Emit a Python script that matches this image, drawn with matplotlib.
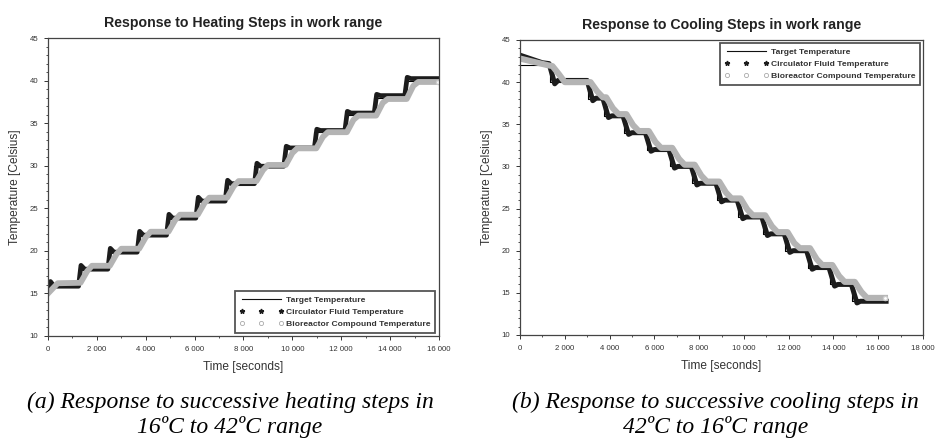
import numpy as np
import matplotlib
matplotlib.use('Agg')
import matplotlib.pyplot as plt
from matplotlib.lines import Line2D
from matplotlib.ticker import FuncFormatter, MultipleLocator

plt.rcParams['font.family'] = ['Liberation Sans', 'DejaVu Sans']

# ---- heating run ----
heat_target_t = [0, 1250, 2450, 3650, 4850, 6050, 7250, 8450, 9650, 10900, 12150, 13350, 14600, 16000]
heat_target_T = [16, 18, 20, 22, 24, 26, 28, 30, 32, 34, 36, 38, 40, 40]

heat_circ_t = [0, 100, 250, 1250, 1350, 1500, 2450, 2550, 2700, 3650, 3750, 3900, 4850,
               4950, 5100, 6050, 6150, 6300, 7250, 7350, 7500, 8450, 8550, 8700, 9650,
               9750, 9900, 10900, 11000, 11150, 12150, 12250, 12400, 13350, 13450, 13600, 14600,
               14700, 14850, 16000]
heat_circ_T = [15.6, 16.4, 15.85, 15.85, 18.3, 17.85, 17.85, 20.3, 19.85, 19.85, 22.3, 21.85, 21.85,
               24.3, 23.85, 23.85, 26.3, 25.85, 25.85, 28.3, 27.9, 27.9, 30.3, 29.95, 29.95,
               32.3, 32.1, 32.1, 34.3, 34.15, 34.15, 36.4, 36.2, 36.2, 38.4, 38.25, 38.25,
               40.4, 40.25, 40.25]

heat_bio_t = [0, 400, 1330, 1600, 1800, 2530, 2800, 3000, 3730, 4000, 4200, 4930, 5200, 5400, 6130,
              6400, 6600, 7330, 7600, 7800, 8530, 8800, 9000, 9730, 10000, 10200, 10980,
              11250, 11450, 12230, 12500, 12700, 13430, 13700, 13900, 14680, 14950, 15150, 15950]
heat_bio_T = [15.0, 16.2, 16.25, 17.6, 18.25, 18.25, 19.6, 20.25, 20.25, 21.6, 22.25, 22.25,
              23.6, 24.25, 24.25, 25.6, 26.25, 26.25, 27.6, 28.2, 28.2, 29.5, 30.1, 30.1,
              31.5, 32.05, 32.05, 33.4, 33.95, 33.95, 35.4, 35.9, 35.9, 37.4, 37.85, 37.85,
              39.4, 39.85, 39.85]

# ---- cooling run ----
cool_target_t = [0, 1350, 3050, 3750, 4650, 5650, 6700, 7700, 8800, 9750, 10850, 11850, 12850, 13850, 14850, 16350]
cool_target_T = [42, 40, 38, 36, 34, 32, 30, 28, 26, 24, 22, 20, 18, 16, 14, 14]

cool_circ_t = [0, 1000, 1300, 1550, 1700, 3000, 3250, 3400, 3700, 3950, 4100, 4600, 4850, 5000, 5600,
               5850, 6000, 6650, 6900, 7050, 7650, 7900, 8050, 8750, 9000, 9150, 9700,
               9950, 10100, 10800, 11050, 11200, 11800, 12050, 12200, 12800, 13050, 13200, 13800,
               14050, 14200, 14800, 15050, 15200, 16350]
cool_circ_T = [43.2, 42.3, 42.2, 39.8, 40.2, 40.2, 37.8, 38.1, 38.1, 35.8, 36.0, 36.0, 33.8, 34.0, 34.0,
               31.8, 32.0, 32.0, 29.8, 30.0, 30.0, 27.8, 28.0, 28.0, 25.8, 26.0, 26.0,
               23.8, 24.0, 24.0, 21.8, 22.0, 22.0, 19.8, 20.0, 20.0, 17.8, 18.0, 18.0,
               15.8, 16.0, 16.0, 13.8, 14.0, 14.0]

cool_bio_t = [0, 1250, 1450, 1750, 2000, 3150, 3450, 3700, 3850, 4150, 4400, 4750, 5050, 5300,
              5750, 6050, 6300, 6800, 7100, 7350, 7800, 8100, 8350, 8900, 9200, 9450,
              9850, 10150, 10400, 10950, 11250, 11500, 11950, 12250, 12500, 12950, 13250, 13500,
              13950, 14250, 14500, 14950, 15250, 15500, 16300]
cool_bio_T = [42.8, 42.0, 41.9, 40.9, 40.0, 40.0, 38.9, 38.2, 38.2, 36.9, 36.2, 36.2, 34.9, 34.2,
              34.2, 32.9, 32.2, 32.2, 30.9, 30.2, 30.2, 28.9, 28.2, 28.2, 26.9, 26.2, 26.2,
              24.9, 24.2, 24.2, 22.9, 22.2, 22.2, 20.9, 20.3, 20.3, 19.0, 18.3, 18.3,
              17.0, 16.3, 16.3, 15.1, 14.4, 14.4]

dark = '#1c1c1c'
grey = '#b4b4b4'


def thousands(x, pos):
    return '{:,}'.format(int(x)).replace(',', ' ')


def setup(ax, title, xmax):
    ax.set_xlim(0, xmax)
    ax.set_ylim(10, 45)
    ax.xaxis.set_major_locator(MultipleLocator(2000))
    ax.xaxis.set_minor_locator(MultipleLocator(1000))
    ax.yaxis.set_major_locator(MultipleLocator(5))
    ax.yaxis.set_minor_locator(MultipleLocator(1))
    ax.xaxis.set_major_formatter(FuncFormatter(thousands))
    ax.tick_params(which='major', length=3, width=0.7, labelsize=5.6, color='#333',
                   labelcolor='#333', pad=4)
    ax.tick_params(which='minor', length=1.5, width=0.6, color='#333')
    for s in ax.spines.values():
        s.set_linewidth(0.9)
        s.set_color('#444')
    ax.set_title(title, fontsize=10.2, fontweight='bold', color='#222', pad=8)
    ax.set_xlabel('Time [seconds]', fontsize=8.6, color='#333', labelpad=6)
    ax.set_ylabel('Temperature [Celsius]', fontsize=8.6, color='#333', labelpad=6)


def legend(ax, **kw):
    handles = [
        Line2D([], [], color='#111', lw=0.8),
        Line2D([], [], ls='none', marker='*', ms=3.5, color=dark),
        Line2D([], [], ls='none', marker='o', ms=3, mfc='white', mec='#aaa', mew=0.6),
    ]
    labels = ['Target Temperature', 'Circulator Fluid Temperature', 'Bioreactor Compound Temperature']
    leg = ax.legend(handles, labels, numpoints=3, handlelength=5.2, fontsize=6.1,
                    fancybox=False, borderaxespad=0, framealpha=1, labelspacing=0.5,
                    handletextpad=0.3, borderpad=0.55, **kw)
    leg.get_frame().set_edgecolor('#555')
    leg.get_frame().set_linewidth(1.3)
    for t in leg.get_texts():
        t.set_fontweight('bold')
        t.set_color('#333')


fig = plt.figure(figsize=(9.41, 4.38), dpi=100)
ax1 = fig.add_axes([0.051, 0.2329, 0.4155, 0.680])
ax2 = fig.add_axes([0.5526, 0.2352, 0.4283, 0.6735])

# heating
ax1.plot(heat_target_t, heat_target_T, drawstyle='steps-post', color='k', lw=0.8)
ax1.plot(heat_circ_t, heat_circ_T, color=dark, lw=3.4, solid_joinstyle='round')
ax1.plot(heat_bio_t, heat_bio_T, color=grey, lw=4.2, solid_joinstyle='round',
         marker='o', markevery=[-1], ms=3, mfc='white', mec='#ccc')
setup(ax1, 'Response to Heating Steps in work range', 16000)
legend(ax1, loc='lower right', bbox_to_anchor=(0.99, 0.01))

# cooling
ax2.plot(cool_target_t, cool_target_T, drawstyle='steps-post', color='k', lw=0.8)
ax2.plot(cool_circ_t, cool_circ_T, color=dark, lw=3.6, solid_joinstyle='round')
ax2.plot(cool_bio_t, cool_bio_T, color=grey, lw=4.4, solid_joinstyle='round',
         marker='o', markevery=[-1], ms=3, mfc='white', mec='#ccc')
setup(ax2, 'Response to Cooling Steps in work range', 18000)
legend(ax2, loc='upper right', bbox_to_anchor=(0.993, 0.99))

cap = dict(ha='center', va='center', fontsize=17, style='italic',
           family=['Liberation Serif', 'DejaVu Serif'])
fig.text(0.2445, 0.053, '(a) Response to successive heating steps in\n16ºC to 42ºC range',
         linespacing=1.18, **cap)
fig.text(0.76, 0.053, '(b) Response to successive cooling steps in\n42ºC to 16ºC range',
         linespacing=1.18, **cap)

fig.savefig('out.png', dpi=100)
